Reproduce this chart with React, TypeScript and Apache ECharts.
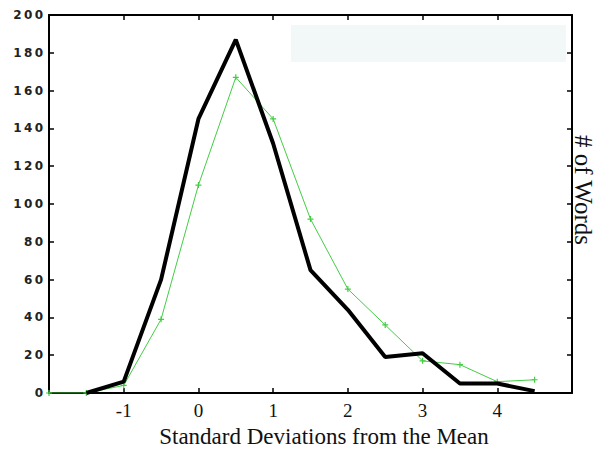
import React, { useEffect, useRef } from "react";
import * as echarts from "echarts";

const xValues = [-2, -1.5, -1, -0.5, 0, 0.5, 1, 1.5, 2, 2.5, 3, 3.5, 4, 4.5];
const blackValues: (number | null)[] = [null, 0, 6, 60, 145, 187, 132, 65, 44, 19, 21, 5, 5, 1];
const greenValues = [0, 0, 4, 39, 110, 167, 145, 92, 55, 36, 17, 15, 6, 7];
const xTitle = "Standard Deviations from the Mean";
const yTitle = "# of Words";

const plus = "path://M4,0H6V4H10V6H6V10H4V6H0V4H4Z";

export default function App() {
  const ref = useRef<HTMLDivElement>(null);
  useEffect(() => {
    if (!ref.current) return;
    const chart = echarts.init(ref.current, null, { renderer: "svg" });
    const axisLine = { show: true, onZero: false, lineStyle: { color: "#000", width: 2 } };
    const axisTick = { show: true, inside: true, length: 5, lineStyle: { color: "#000", width: 1.5 } };
    chart.setOption({
      animation: false,
      backgroundColor: "#fff",
      grid: { left: 49, right: 25, top: 15, bottom: 58, containLabel: false },
      xAxis: [
        {
          type: "value",
          min: -2,
          max: 5,
          interval: 1,
          position: "bottom",
          axisLine,
          axisTick,
          splitLine: { show: false },
          axisLabel: {
            showMinLabel: false,
            showMaxLabel: false,
            margin: 8,
            color: "#111",
            fontFamily: "Liberation Serif",
            fontSize: 19,
          },
        },
        {
          type: "value",
          min: -2,
          max: 5,
          interval: 1,
          position: "top",
          axisLine,
          axisTick,
          splitLine: { show: false },
          axisLabel: { show: false },
        },
      ],
      yAxis: [
        {
          type: "value",
          min: 0,
          max: 200,
          interval: 20,
          position: "left",
          axisLine,
          axisTick,
          splitLine: { show: false },
          axisLabel: {
            margin: 6,
            color: "#222",
            fontFamily: "DejaVu Sans",
            fontWeight: "bold",
            fontSize: 12,
            formatter: (v: number) => String(v).split("").join("\u2009"),
          },
        },
        {
          type: "value",
          min: 0,
          max: 200,
          interval: 20,
          position: "right",
          axisLine,
          axisTick,
          splitLine: { show: false },
          axisLabel: { show: false },
        },
      ],
      graphic: [
        {
          type: "rect",
          shape: { x: 291, y: 25, width: 275, height: 37 },
          style: { fill: "#f2f8f7" },
          z: -1,
        },
        {
          type: "text",
          x: 324,
          y: 436,
          style: {
            text: xTitle,
            fontFamily: "Liberation Serif",
            fontSize: 23,
            fill: "#111",
            textAlign: "center",
            textVerticalAlign: "middle",
          },
        },
        {
          type: "text",
          x: 583,
          y: 190,
          rotation: -Math.PI / 2,
          style: {
            text: yTitle,
            fontFamily: "Liberation Serif",
            fontSize: 25,
            fill: "#111",
            textAlign: "center",
            textVerticalAlign: "middle",
          },
        },
      ],
      series: [
        {
          type: "line",
          name: "green",
          data: xValues.map((x, i) => [x, greenValues[i]]),
          lineStyle: { color: "#44cc44", width: 1 },
          itemStyle: { color: "#44cc44" },
          symbol: plus,
          symbolSize: 6,
          showSymbol: true,
          z: 2,
        },
        {
          type: "line",
          name: "black",
          data: xValues.map((x, i) => [x, blackValues[i]]),
          lineStyle: { color: "#000", width: 4 },
          symbol: "none",
          connectNulls: false,
          z: 3,
        },
      ],
    });
    return () => chart.dispose();
  }, []);
  return <div ref={ref} style={{ width: 597, height: 451, position: "absolute", left: 0, top: 0 }} />;
}
